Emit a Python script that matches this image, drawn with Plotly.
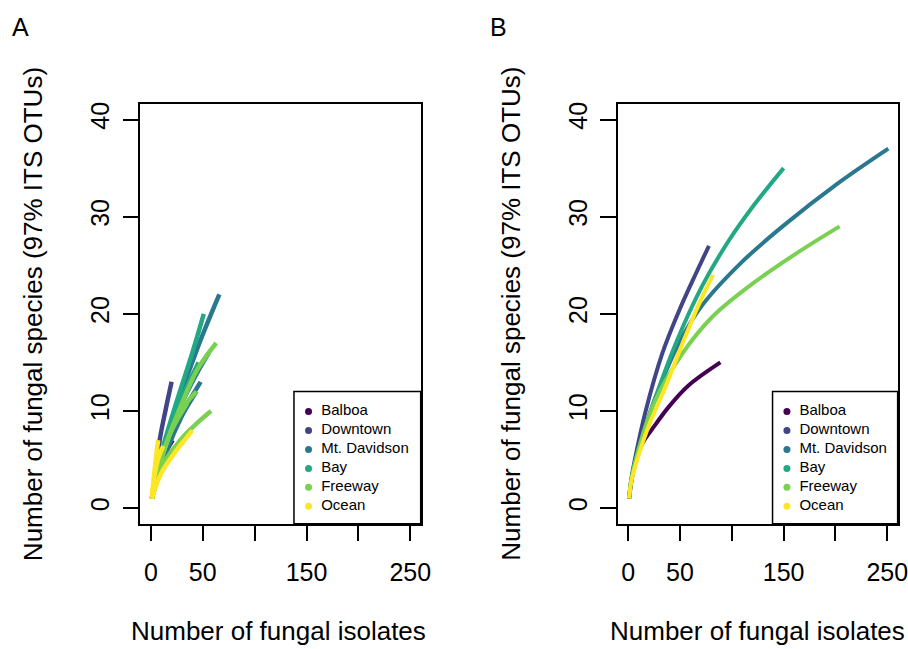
import plotly.graph_objects as go

sites = ["Balboa", "Downtown", "Mt. Davidson", "Bay", "Freeway", "Ocean"]
colors = ["#440154", "#414487", "#2A788E", "#22A884", "#7AD151", "#FDE725"]

# Panel A: per-sample rarefaction curves (site index, x values, y values)
a_curve_site = [0, 1, 2, 2, 2, 2, 3, 3, 3, 4, 4, 4, 4, 5, 5, 5]
a_curve_x = [
    [1, 5, 10, 15, 21],
    [1, 5, 9, 14, 20],
    [1, 10, 25, 45, 66],
    [1, 10, 30, 44, 56],
    [1, 10, 30, 40, 48],
    [1, 15, 30, 38, 44],
    [1, 10, 25, 40, 51],
    [1, 10, 25, 36, 46],
    [1, 8, 18, 30],
    [1, 10, 30, 45, 63],
    [1, 10, 30, 45, 58],
    [1, 10, 25, 35, 44],
    [1, 8, 20, 35],
    [1, 3, 5, 7],
    [1, 10, 25, 34, 40],
    [1, 4, 8, 12],
]
a_curve_y = [
    [1, 3.0, 4.8, 5.9, 7],
    [1, 4.2, 7.3, 10.0, 13],
    [1, 5.2, 10.5, 16.5, 22],
    [1, 4.8, 10.8, 13.8, 16],
    [1, 4.6, 9.8, 11.6, 13],
    [1, 5.8, 9.5, 11.0, 12],
    [1, 5.6, 11.0, 16.0, 20],
    [1, 5.2, 10.0, 12.8, 15],
    [1, 4.6, 8.2, 11],
    [1, 5.0, 10.8, 14.3, 17],
    [1, 4.2, 7.2, 8.8, 10],
    [1, 5.0, 9.3, 10.9, 12],
    [1, 4.4, 8.0, 10.8],
    [1, 3.3, 5.3, 7],
    [1, 3.6, 6.0, 7.2, 8],
    [1, 3.6, 5.4, 6.4],
]

# Panel B: pooled rarefaction curve per site (same order as sites)
b_x = [
    [1, 3, 7, 14, 23, 39, 58, 89],
    [1, 3, 7.1, 16.7, 32.9, 49.1, 65.2, 78],
    [1, 3, 10, 25, 49.1, 71.6, 110.4, 149, 200.7, 251],
    [1, 3, 10, 23.2, 45.8, 71.6, 97.5, 120, 150],
    [1, 3, 10, 25, 52.3, 81.3, 120, 162, 204],
    [1, 3, 10, 20, 36.1, 52.3, 68.4, 82],
]
b_y = [
    [1, 2.6, 4.8, 6.7, 8.1, 10.4, 12.6, 15],
    [1, 2.9, 5.3, 9.9, 15.9, 20.3, 24.1, 27],
    [1, 2.8, 6.0, 11.0, 17.0, 20.9, 25.4, 29.0, 33.3, 37],
    [1, 2.8, 6.0, 10.4, 16.9, 22.9, 27.6, 31.0, 35],
    [1, 2.8, 6.0, 10.8, 15.9, 19.7, 23.1, 26.2, 29],
    [1, 2.7, 5.4, 8.5, 12.5, 16.9, 21.0, 24],
]

x_ticks = [0, 50, 100, 150, 200, 250]
x_ticktext = ["0", "50", "", "150", "", "250"]
y_ticks = [0, 10, 20, 30, 40]
x_range = [-10, 260]
y_range = [-1.6, 41.6]

FONT = "Liberation Sans, Arial, sans-serif"
REF_W, H = 908, 649
W = 921          # canvas width; the page is captured slightly wider and squeezed to 908


def sx(px):
    return px / REF_W


def sy(py):
    return 1 - py / H


fig = go.Figure()

# Panel A curves
for s, xs, ys in zip(a_curve_site, a_curve_x, a_curve_y):
    fig.add_trace(go.Scatter(
        x=xs, y=ys, mode="lines", line=dict(color=colors[s], width=4.5, shape="spline"),
        showlegend=False, hoverinfo="skip", xaxis="x", yaxis="y"))
# Panel B curves
for i, (xs, ys) in enumerate(zip(b_x, b_y)):
    fig.add_trace(go.Scatter(
        x=xs, y=ys, mode="lines", line=dict(color=colors[i], width=4, shape="spline"),
        showlegend=False, hoverinfo="skip", xaxis="x2", yaxis="y2"))

# Legends (dots + labels) drawn in small frame axes
for xa, ya in [("x3", "y3"), ("x4", "y4")]:
    fig.add_trace(go.Scatter(
        x=[0.115] * len(sites), y=sites, mode="markers",
        marker=dict(color=colors, size=7), showlegend=False, hoverinfo="skip",
        xaxis=xa, yaxis=ya))
    fig.add_trace(go.Scatter(
        x=[0.215] * len(sites), y=sites, mode="text", text=sites,
        textposition="middle right",
        textfont=dict(family=FONT, size=15, color="black"),
        showlegend=False, hoverinfo="skip", xaxis=xa, yaxis=ya))

ax_common = dict(
    showline=True, mirror=True, linecolor="black", linewidth=1.5,
    ticks="outside", ticklen=16, tickwidth=1.5, tickcolor="black",
    showgrid=False, zeroline=False,
    tickfont=dict(family=FONT, size=25, color="black"),
)
leg_ax = dict(visible=False, showgrid=False, zeroline=False, fixedrange=True)
ylab_ax = dict(range=y_range, tickvals=y_ticks, tickangle=-90, showline=False,
               ticks="", showgrid=False, zeroline=False, anchor="free",
               tickfont=dict(family=FONT, size=25, color="black"))

yd = [sy(523.3), sy(102.3)]
leg_yd = [sy(523.3), sy(390.7)]
leg_yrange = [5.92, -1.06]

fig.update_layout(
    width=W, height=H, margin=dict(l=0, r=0, t=0, b=0),
    paper_bgcolor="white", plot_bgcolor="white",
    font=dict(family=FONT, color="black"),
    showlegend=False,
    xaxis=dict(domain=[sx(140), sx(419.3)], range=x_range, tickvals=x_ticks,
               ticktext=x_ticktext, anchor="y", ticklabelstandoff=10, **ax_common),
    yaxis=dict(domain=yd, range=y_range, tickvals=y_ticks, showticklabels=False,
               anchor="x", **ax_common),
    xaxis2=dict(domain=[sx(615.7), sx(894.7)], range=x_range, tickvals=x_ticks,
                ticktext=x_ticktext, anchor="y2", ticklabelstandoff=10, **ax_common),
    yaxis2=dict(domain=yd, range=y_range, tickvals=y_ticks, showticklabels=False,
                anchor="x2", **ax_common),
    # tick-label axes for the rotated y labels
    yaxis5=dict(domain=yd, overlaying="y", position=sx(114), **ylab_ax),
    yaxis6=dict(domain=yd, overlaying="y2", position=sx(590), **ylab_ax),
    xaxis3=dict(domain=[sx(293), sx(419.3)], range=[0, 1], anchor="y3", **leg_ax),
    yaxis3=dict(domain=leg_yd, range=leg_yrange, anchor="x3", type="category",
                categoryarray=sites, **leg_ax),
    xaxis4=dict(domain=[sx(770), sx(894.7)], range=[0, 1], anchor="y4", **leg_ax),
    yaxis4=dict(domain=leg_yd, range=leg_yrange, anchor="x4", type="category",
                categoryarray=sites, **leg_ax),
)

# invisible traces to activate the label axes
fig.add_trace(go.Scatter(x=[None], y=[None], xaxis="x", yaxis="y5", showlegend=False,
                         hoverinfo="skip"))
fig.add_trace(go.Scatter(x=[None], y=[None], xaxis="x2", yaxis="y6", showlegend=False,
                         hoverinfo="skip"))

# Legend frames
for xr, yr in [("x3 domain", "y3 domain"), ("x4 domain", "y4 domain")]:
    fig.add_shape(type="rect", xref=xr, yref=yr, x0=0, x1=1, y0=0, y1=1,
                  line=dict(color="black", width=1.5))

# Axis titles and panel letters
xt = "Number of fungal isolates"
yt = "Number of fungal species (97% ITS OTUs)"
for cx, lx, letter, xl in [(278, 33, "A", 20), (755.2, 509, "B", 497)]:
    fig.add_annotation(text=xt, x=sx(cx), y=sy(631), xref="paper", yref="paper",
                       showarrow=False, xanchor="center", yanchor="middle",
                       font=dict(family=FONT, size=26, color="black"))
    fig.add_annotation(text=yt, x=sx(lx), y=sy(313), xref="paper", yref="paper",
                       showarrow=False, xanchor="center", yanchor="middle", textangle=-90,
                       font=dict(family=FONT, size=26, color="black"))
    fig.add_annotation(text=letter, x=sx(xl), y=sy(25), xref="paper", yref="paper",
                       showarrow=False, xanchor="center", yanchor="middle",
                       font=dict(family=FONT, size=25, color="black"))

fig.write_html(
    "out.html",
    config={"displayModeBar": False},
    post_script="document.body.style.margin='0';"
                "document.body.style.overflow='hidden';"
                "document.documentElement.style.overflow='hidden';",
)
